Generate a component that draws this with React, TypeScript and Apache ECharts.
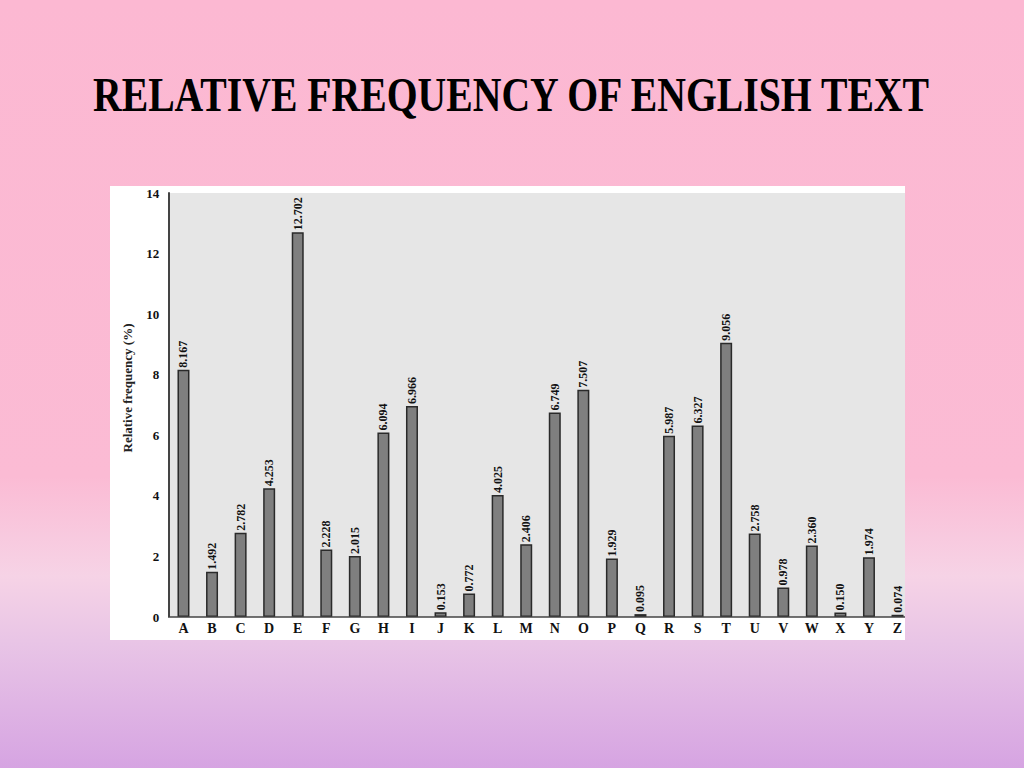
import React, { useEffect, useRef } from "react";
import * as echarts from "echarts";

const letters = ["A","B","C","D","E","F","G","H","I","J","K","L","M","N","O","P","Q","R","S","T","U","V","W","X","Y","Z"];
const frequencies = [8.167,1.492,2.782,4.253,12.702,2.228,2.015,6.094,6.966,0.153,0.772,4.025,2.406,6.749,7.507,1.929,0.095,5.987,6.327,9.056,2.758,0.978,2.360,0.150,1.974,0.074];
const titleText = "RELATIVE FREQUENCY OF ENGLISH TEXT";
const yAxisTitle = "Relative frequency (%)";

const SERIF = "'Liberation Serif', 'DejaVu Serif', serif";

export default function App() {
  const ref = useRef<HTMLDivElement>(null);
  useEffect(() => {
    document.body.style.margin = "0";
    const chart = echarts.init(ref.current!, null, { renderer: "svg" });
    chart.setOption({
      animation: false,
      backgroundColor: "transparent",
      graphic: {
        elements: [
          { type: "rect", z: -20, silent: true, shape: { x: 110, y: 186, width: 795, height: 454 }, style: { fill: "#ffffff" } },
          { type: "rect", z: -10, silent: true, shape: { x: 170, y: 193, width: 735, height: 424 }, style: { fill: "#e6e6e6" } },
          { type: "line", z: 5, silent: true, shape: { x1: 170, y1: 617, x2: 905, y2: 617 }, style: { stroke: "#444", lineWidth: 1.5 } },
          {
            type: "text", z: 10, x: 511, y: 95, scaleX: 1.045, scaleY: 1.25, originX: 0, originY: 0,
            style: { text: titleText, font: `bold 38px ${SERIF}`, fill: "#000", align: "center", verticalAlign: "middle" },
          },
          {
            type: "text", z: 10, x: 127, y: 388, rotation: Math.PI / 2,
            style: { text: yAxisTitle, font: `bold 13px ${SERIF}`, fill: "#222", align: "center", verticalAlign: "middle" },
          },
        ],
      },
      grid: { left: 169.2, right: 112.2, top: 193, bottom: 151 },
      xAxis: {
        type: "category",
        data: letters,
        axisLine: { show: false },
        axisTick: { show: false },
        axisLabel: { color: "#111", fontFamily: SERIF, fontWeight: "bold", fontSize: 14, margin: 4 },
        splitLine: { show: false },
      },
      yAxis: {
        type: "value",
        min: 0,
        max: 14,
        interval: 2,
        axisLine: { show: true, lineStyle: { color: "#444", width: 2 } },
        axisTick: { show: false },
        splitLine: { show: false },
        axisLabel: { color: "#111", fontFamily: SERIF, fontWeight: "bold", fontSize: 13, margin: 10 },
      },
      series: [
        {
          type: "bar",
          data: frequencies,
          barWidth: 12,
          itemStyle: { color: "#7f7f7f", borderColor: "#2a2a2a", borderWidth: 1.5 },
          label: {
            show: true,
            position: "top",
            rotate: 90,
            align: "left",
            verticalAlign: "middle",
            distance: 2,
            fontFamily: SERIF,
            fontWeight: "bold",
            fontSize: 12,
            color: "#111",
            formatter: (p: any) => p.value.toFixed(3),
          },
        },
      ],
    });
    return () => chart.dispose();
  }, []);
  return (
    <div
      ref={ref}
      style={{
        position: "fixed",
        left: 0,
        top: 0,
        width: 1024,
        height: 768,
        background: "linear-gradient(to bottom, #fcb8d2 0%, #fbbbd4 62%, #f6d3e6 75%, #e8c4e6 84%, #d6a4e2 100%)",
      }}
    />
  );
}
